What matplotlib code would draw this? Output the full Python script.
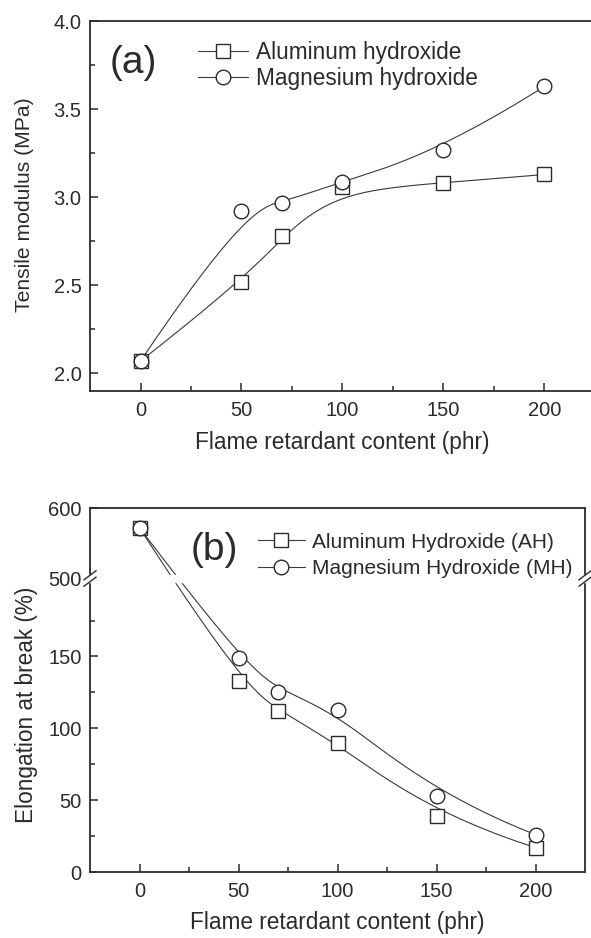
import numpy as np
import matplotlib
matplotlib.use("Agg")
from matplotlib import pyplot as plt

plt.rcParams['font.family'] = ['Liberation Sans', 'DejaVu Sans']

# flame retardant content (phr)
content = [0, 50, 70, 100, 150, 200]

# (a) tensile modulus (MPa)
modulus_ah = [2.07, 2.52, 2.78, 3.06, 3.08, 3.13]
modulus_mh = [2.07, 2.92, 2.97, 3.09, 3.27, 3.63]

# (b) elongation at break (%)
elong_ah = [572, 133, 112, 90, 39, 17]
elong_mh = [572, 149, 125, 113, 53, 26]

labels_a = ["Aluminum hydroxide", "Magnesium hydroxide"]
labels_b = ["Aluminum Hydroxide (AH)", "Magnesium Hydroxide (MH)"]

INK = '#2b2b2b'
LINE = '#3a3a3a'


def bspline(xs, ys, n=300):
    # clamped cubic B-spline with the data points as control points (Origin style)
    xs = np.asarray(xs, float)
    ys = np.asarray(ys, float)
    k = 3
    m = len(xs)
    knots = np.concatenate([[0] * k, np.arange(m - k + 1), [m - k] * k]).astype(float)
    t = np.linspace(0, m - k, n)
    t[-1] -= 1e-9

    def basis(i, d):
        if d == 0:
            return ((knots[i] <= t) & (t < knots[i + 1])).astype(float)
        out = np.zeros_like(t)
        d1 = knots[i + d] - knots[i]
        d2 = knots[i + d + 1] - knots[i + 1]
        if d1 > 0:
            out += (t - knots[i]) / d1 * basis(i, d - 1)
        if d2 > 0:
            out += (knots[i + d + 1] - t) / d2 * basis(i + 1, d - 1)
        return out

    B = np.array([basis(i, k) for i in range(m)])
    return B.T @ xs, B.T @ ys


# broken y scale for panel (b): 0-204 linear, 500-600 compressed
LO, HI, SQ, UP = 204.0, 500.0, 0.5, 0.486


def fwd(y):
    y = np.asarray(y, float)
    return np.where(y <= LO, y,
                    np.where(y >= HI, LO + SQ + (y - HI) * UP,
                             LO + (y - LO) * SQ / (HI - LO)))


def inv(u):
    u = np.asarray(u, float)
    return np.where(u <= LO, u,
                    np.where(u >= LO + SQ, HI + (u - LO - SQ) / UP,
                             LO + (u - LO) * (HI - LO) / SQ))


def style_axes(ax):
    for s in ax.spines.values():
        s.set_linewidth(1.3)
        s.set_color(INK)
    ax.tick_params(which='both', direction='in', top=False, right=False,
                   colors=INK, width=1.1, labelsize=14.5)
    ax.tick_params(which='major', length=6)
    ax.tick_params(which='minor', length=3.5)
    ax.tick_params(axis='x', pad=7)
    ax.tick_params(axis='y', pad=6)
    ax.set_xlim(-25, 225)
    ax.set_xticks([0, 50, 100, 150, 200])
    ax.set_xticks([25, 75, 125, 175], minor=True)


def draw_series(ax, x, y, marker, ms, label, transform_y=False):
    if transform_y:
        sx, sy = bspline(x, fwd(y))
        sy = inv(sy)
    else:
        sx, sy = bspline(x, y)
    ax.plot(sx, sy, color=LINE, lw=0.8, zorder=2)
    ax.plot(x, y, linestyle='none', marker=marker, ms=ms, mfc='white',
            mec=INK, mew=1.0, zorder=3)
    # legend proxy
    ax.plot([], [], color=LINE, lw=0.8, marker=marker, ms=ms, mfc='white',
            mec=INK, mew=1.0, label=label)


fig = plt.figure(figsize=(5.91, 9.38), dpi=100)

# ---------- panel (a)
ax1 = fig.add_axes([90 / 591, 1 - 391 / 938, 505 / 591, 369.7 / 938])
style_axes(ax1)
draw_series(ax1, content, modulus_ah, 's', 9.5, labels_a[0])
draw_series(ax1, content, modulus_mh, 'o', 10.5, labels_a[1])
ax1.set_ylim(1.9, 4.0)
ax1.set_yticks([2.0, 2.5, 3.0, 3.5, 4.0])
ax1.set_yticks([2.25, 2.75, 3.25, 3.75], minor=True)
ax1.set_ylabel("Tensile modulus (MPa)", fontsize=15.2, color=INK)
ax1.set_xlabel("Flame retardant content (phr)", fontsize=16.3, color=INK)
ax1.yaxis.set_label_coords(-0.11, 0.505)
ax1.xaxis.set_label_coords(0.5, -0.108)
ax1.text(0.0855, 0.887, "(a)", transform=ax1.transAxes, fontsize=28,
         ha='center', va='center', color=INK)
ax1.legend(loc='upper left', bbox_to_anchor=(0.2147, 0.948), frameon=False,
           fontsize=16.3, handlelength=2.2, handletextpad=0.33, labelspacing=0.14,
           borderpad=0, borderaxespad=0, labelcolor=INK)

# ---------- panel (b)
ax2 = fig.add_axes([90 / 591, 1 - 872 / 938, 495 / 591, 363.7 / 938])
ax2.set_yscale('function', functions=(fwd, inv))
style_axes(ax2)
draw_series(ax2, content, elong_ah, 's', 9.5, labels_b[0], transform_y=True)
draw_series(ax2, content, elong_mh, 'o', 10.5, labels_b[1], transform_y=True)
ax2.set_ylim(0, 600)
ax2.set_yticks([0, 50, 100, 150, 500, 600])
ax2.set_yticklabels(["0", "50", "100", "150", "500", "600"])
ax2.set_yticks([25, 75, 125, 175], minor=True)
ax2.set_ylabel("Elongation at break (%)", fontsize=16.3, color=INK)
ax2.set_xlabel("Flame retardant content (phr)", fontsize=16.3, color=INK)
ax2.yaxis.set_label_coords(-0.105, 0.46)
ax2.xaxis.set_label_coords(0.5, -0.106)
ax2.text(0.2505, 0.885, "(b)", transform=ax2.transAxes, fontsize=28,
         ha='center', va='center', color=INK)
ax2.legend(loc='upper left', bbox_to_anchor=(0.339, 0.933), frameon=False,
           fontsize=15, handlelength=2.26, handletextpad=0.32, labelspacing=0.36,
           borderpad=0, borderaxespad=0, labelcolor=INK)

# axis break: white band plus double slashes on both spines
yb = (float(fwd(HI)) + float(fwd(LO))) / 2
ybf = ax2.transAxes.inverted().transform(ax2.transData.transform((0, inv(yb))))[1]
hx = 6 / 495
hy = 4.5 / 363.7
g = 3.2 / 363.7
ax2.fill_between([-0.008, 1.008], ybf - g, ybf + g, color='white',
                 transform=ax2.transAxes, clip_on=False, zorder=5)
for xc in (0.0, 1.0):
    for off in (-g, g):
        ax2.plot([xc - hx, xc + hx], [ybf + off - hy, ybf + off + hy],
                 color=INK, lw=1.0, transform=ax2.transAxes, clip_on=False,
                 zorder=6)

fig.savefig("out.png", dpi=100)
